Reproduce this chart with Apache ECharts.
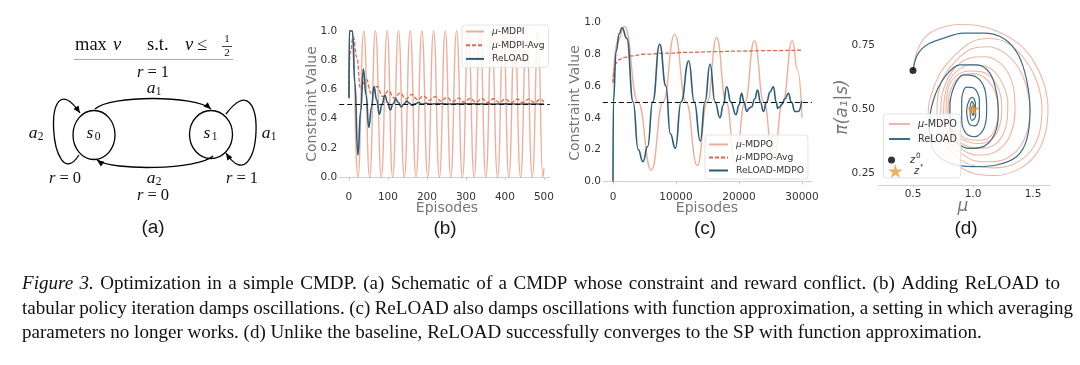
<!DOCTYPE html>
<html><head><meta charset="utf-8">
<script src="https://cdn.jsdelivr.net/npm/echarts@6/dist/echarts.min.js"></script>
<style>html,body{margin:0;padding:0;background:#fff}#c{width:1080px;height:365px}</style>
</head><body><div id="c"></div>
<script>
// ---------- DATA ----------
// (b) tabular policy iteration: [episode, constraint value]
const mdpiB = [[0,0.55],[2,1],[8,1],[23,0],[38,1],[53,0],[68,1],[83,0],[98,1],[112,0],[127,1],[142,0],[157,1],[172,0],[187,1],[202,0],[217,1],[232,0],[247,1],[261,0],[276,1],[291,0],[306,1],[321,0],[336,1],[351,0],[366,1],[381,0],[396,1],[410,0],[425,1],[440,0],[455,1],[470,0],[485,1],[497,0],[500,0.06]];
const avgB = [[0,0.55],[3,0.85],[11,0.96],[20,0.82],[30,0.60],[44,0.67],[58,0.57],[72,0.62],[87,0.55],[101,0.59],[116,0.54],[131,0.575],[146,0.535],[161,0.565],[176,0.53],[191,0.555],[206,0.525],[221,0.55],[236,0.52],[251,0.545],[266,0.515],[281,0.54],[296,0.512],[311,0.538],[326,0.512],[341,0.537],[356,0.51],[371,0.536],[386,0.51],[401,0.535],[416,0.51],[431,0.534],[446,0.51],[461,0.533],[476,0.509],[491,0.532],[500,0.515]];
const reloadB = [[0,0.54],[1,1],[9,1],[15,0.65],[23,0.15],[30,0.45],[37,0.74],[44,0.56],[51,0.34],[58,0.48],[64,0.62],[71,0.53],[78,0.43],[85,0.5],[92,0.56],[99,0.51],[106,0.46],[113,0.5],[120,0.535],[127,0.51],[134,0.48],[141,0.5],[148,0.52],[155,0.505],[162,0.49],[170,0.502],[178,0.51],[188,0.5],[198,0.505],[210,0.5],[230,0.503],[260,0.5],[300,0.502],[350,0.5],[400,0.501],[450,0.5],[500,0.5]];
// (c) function approximation: [episode, constraint value]
const mdpoC = [[0,0.62],[700,0.88],[1850,0.975],[3970,0.5],[6080,0.07],[7950,0.5],[9790,0.925],[11600,0.5],[13380,0.10],[14950,0.5],[16450,0.905],[17950,0.5],[19450,0.12],[20950,0.5],[22430,0.885],[23950,0.5],[25450,0.12],[26950,0.5],[28460,0.885],[29300,0.7],[30000,0.40]];
const avgC = [[0,0.62],[150,0.70],[400,0.74],[900,0.765],[1800,0.78],[3000,0.79],[5000,0.80],[8000,0.806],[12000,0.812],[16000,0.816],[20000,0.82],[25000,0.823],[30000,0.826]];
const reloadC = [[0,0.0],[60,0.5],[500,0.82],[1000,0.93],[1430,0.967],[2200,0.9],[3200,0.5],[4000,0.2],[4760,0.125],[5500,0.22],[6300,0.5],[7410,0.863],[8400,0.6],[9100,0.3],[9900,0.209],[10800,0.5],[12020,0.758],[12900,0.5],[13860,0.255],[14600,0.5],[15400,0.737],[16200,0.5],[16980,0.40],[17500,0.48],[18040,0.596],[18700,0.5],[19520,0.42],[20000,0.48],[20400,0.555],[20800,0.5],[21220,0.44],[21600,0.46],[22000,0.47],[22500,0.52],[22950,0.575],[23400,0.5],[23860,0.44],[24400,0.5],[24900,0.56],[25450,0.596],[25900,0.5],[26140,0.46],[26500,0.47],[26800,0.485],[27300,0.52],[27830,0.555],[28300,0.5],[28890,0.44],[29400,0.44],[29950,0.506]];
// (d) trajectories: [mu, pi(a1|s)]
const mdpoD = [[0.50,0.65],[0.53,0.72],[0.60,0.78],[0.72,0.815],[0.88,0.83],[1.05,0.825],[1.22,0.80],[1.38,0.755],[1.50,0.69],[1.59,0.60],[1.625,0.50],[1.60,0.40],[1.52,0.32],[1.38,0.265],[1.20,0.24],[1.03,0.245],[0.88,0.275],[0.75,0.32],[0.66,0.38],[0.625,0.44],
 [0.63,0.51],[0.67,0.58],[0.74,0.65],[0.85,0.71],[0.98,0.76],[1.12,0.775],[1.28,0.76],[1.42,0.70],[1.53,0.61],[1.575,0.50],[1.55,0.40],[1.47,0.33],[1.34,0.285],[1.18,0.27],[1.03,0.275],[0.90,0.30],[0.79,0.35],[0.72,0.41],
 [0.70,0.48],[0.71,0.56],[0.76,0.63],[0.86,0.69],[0.99,0.735],[1.12,0.743],[1.26,0.72],[1.38,0.66],[1.45,0.58],[1.475,0.50],[1.45,0.41],[1.38,0.345],[1.27,0.305],[1.13,0.294],[1.00,0.30],[0.89,0.33],[0.80,0.37],[0.74,0.43],
 [0.73,0.49],[0.745,0.56],[0.79,0.62],[0.87,0.67],[0.98,0.70],[1.10,0.704],[1.21,0.685],[1.30,0.635],[1.345,0.56],[1.35,0.49],[1.32,0.41],[1.25,0.355],[1.15,0.325],[1.04,0.32],[0.93,0.335],[0.84,0.37],[0.78,0.42],
 [0.755,0.48],[0.765,0.55],[0.80,0.61],[0.87,0.65],[0.97,0.672],[1.08,0.67],[1.18,0.645],[1.25,0.595],[1.29,0.53],[1.285,0.46],[1.25,0.40],[1.18,0.36],[1.08,0.347],[0.98,0.35],[0.89,0.37],[0.82,0.41],
 [0.775,0.47],[0.78,0.54],[0.81,0.60],[0.88,0.635],[0.97,0.648],[1.07,0.645],[1.16,0.62],[1.22,0.57],[1.24,0.51],[1.23,0.45],[1.19,0.40],[1.12,0.37],[1.03,0.365],[0.94,0.375],[0.86,0.40],[0.80,0.44],
 [0.79,0.49],[0.80,0.55],[0.84,0.60],[0.91,0.63],[1.00,0.638],[1.09,0.625],[1.16,0.59],[1.20,0.54],[1.21,0.48],[1.19,0.43],[1.14,0.39],[1.06,0.378],[0.97,0.38],[0.89,0.40],[0.83,0.44],[0.80,0.49],[0.805,0.54]];
const reloadD = [[0.50,0.65],[0.536,0.711],[0.614,0.75],[0.753,0.776],[0.92,0.796],[1.086,0.796],[1.253,0.776],[1.378,0.711],[1.447,0.613],[1.475,0.496],[1.447,0.379],[1.364,0.314],[1.197,0.281],[1.003,0.275],[0.808,0.288],[0.67,0.34],[0.636,0.431],[0.67,0.535],[0.767,0.626],[0.892,0.672],[1.03,0.672],[1.142,0.639],[1.197,0.561],[1.211,0.483],[1.183,0.405],[1.086,0.353],[0.961,0.346],[0.864,0.372],[0.808,0.431],[0.808,0.509],[0.842,0.587],[0.92,0.633],[1.03,0.624],[1.1,0.574],[1.114,0.496],[1.092,0.425],[1.017,0.392],[0.942,0.405],[0.906,0.457],[0.906,0.535],[0.947,0.585],[1.008,0.581],[1.053,0.535],[1.053,0.47],[1.017,0.434],[0.969,0.441],[0.947,0.496],[0.969,0.535],[0.995,0.545],[1.02,0.52],[1.02,0.47],[0.99,0.455],[0.975,0.50],[0.99,0.53],[1.01,0.51],[1.0,0.475],[0.985,0.495],[1.0,0.515],[1.0,0.5]];
const z0Point = [[0.5,0.65]];
const zStarPoint = [[1.0,0.5]];
const constraintLimit = 0.5;
// tick values
const epTicksB = [0,100,200,300,400,500];
const epTicksC = [0,10000,20000,30000];
const cvTicks = [0,0.2,0.4,0.6,0.8,1.0];
const muTicks = [0.5,1.0,1.5];
const piTicks = [0.25,0.5,0.75];
// legend labels
const legendLabels = {mdpiB:'{i|μ}-MDPI', avgB:'{i|μ}-MDPI-Avg', reloadB:'ReLOAD', mdpoC:'{i|μ}-MDPO', avgC:'{i|μ}-MDPO-Avg', reloadC:'ReLOAD-MDPO', mdpoD:'{i|μ}-MDPO', reloadD:'ReLOAD', z0:'{i|z}{sup|0}', zstar:'{i|z}{sup|*}'};
const captionLines = [
 'Figure 3. Optimization in a simple CMDP. (a) Schematic of a CMDP whose constraint and reward conflict. (b) Adding ReLOAD to',
 'tabular policy iteration damps oscillations. (c) ReLOAD also damps oscillations with function approximation, a setting in which averaging',
 'parameters no longer works. (d) Unlike the baseline, ReLOAD successfully converges to the SP with function approximation.'
];

// ---------- STYLE ----------
const ORANGE = 'rgba(232,148,120,0.75)';
const ORANGE_D = 'rgba(234,150,124,0.7)';
const RED = '#e2674a';
const BLUE = '#2c5c77';
const BLUE_D = '#3c6c86';
const STAR = 'path://M50,0 L61,35 L98,35 L68,57 L79,91 L50,70 L21,91 L32,57 L2,35 L39,35 Z';
const SANS = 'DejaVu Sans';
const TICK_COLOR = '#333';
const TITLE_COLOR = '#777';
const AXIS_COLOR = '#cfcfcf';

function xAx(gi, min, max, ticks, fmt) {
  return {type:'value', gridIndex:gi, min, max,
    axisLine:{show:true, lineStyle:{color:AXIS_COLOR, width:1}},
    axisTick:{show:true, length:3, customValues:ticks, lineStyle:{color:AXIS_COLOR}},
    axisLabel:{customValues:ticks, formatter:fmt, color:TICK_COLOR, fontSize:10.5, fontFamily:SANS, margin:4},
    splitLine:{show:false}};
}
function yAx(gi, min, max, ticks, fmt, margin) {
  return {type:'value', gridIndex:gi, min, max,
    axisLine:{show:false}, axisTick:{show:false},
    axisLabel:{customValues:ticks, formatter:fmt, color:TICK_COLOR, fontSize:10.5, fontFamily:SANS, margin},
    splitLine:{show:false}};
}
const f1 = v => v.toFixed(1), f2 = v => v.toFixed(2), f0 = v => String(Math.round(v));
const dashLine = {silent:true, symbol:['none','none'], label:{show:false},
  lineStyle:{color:'#111', type:[5,3], width:1.2}, data:[{yAxis:constraintLimit}]};

function lineS(name, xi, data, color, width, type, extra) {
  return Object.assign({type:'line', name, xAxisIndex:xi, yAxisIndex:xi, data, showSymbol:false, symbol:'none',
    smooth:0.5, smoothMonotone:'x', color, lineStyle:{color, width, type:type||'solid'}, animation:false}, extra||{});
}

function legendText(size) {
  return {color:'#333', fontSize:size, fontFamily:SANS, padding:[0,0,0,3],
    rich:{i:{fontStyle:'italic', fontSize:size, fontFamily:SANS, color:'#333'},
          sup:{fontSize:size*0.75, fontFamily:SANS, color:'#333', padding:[0,0,7,1]}}};
}
const legendFmt = n => legendLabels[n];
const noSymbol = {opacity:0, color:'rgba(0,0,0,0)', borderWidth:0};
function boxLegend(left, top, names, itemWidth, gap, padding) {
  return {show:true, orient:'vertical', left, top, itemWidth, itemHeight:10, itemGap:gap, padding,
    backgroundColor:'rgba(255,255,255,0.82)', borderColor:'#e4e4e4', borderWidth:1, borderRadius:3,
    itemStyle:noSymbol, data:names, formatter:legendFmt, textStyle:legendText(9.2), selectedMode:false};
}
function soloLegend(left, top, name, h, isLine) {
  const l = {show:true, left, top, itemWidth:21, itemHeight:h, padding:0, data:[name], formatter:legendFmt,
    textStyle:legendText(9.7), selectedMode:false, z:6};
  if (isLine) l.itemStyle = noSymbol;
  return l;
}

// ---------- CAPTION LAYOUT ----------
const mctx = document.createElement('canvas').getContext('2d');
function mw(t, size, it) { mctx.font = (it?'italic ':'') + size + 'px "Liberation Serif"'; return mctx.measureText(t).width; }
const capLeft = 22, capEnds = [1060, 1073, 982], capY = [284, 308.5, 333];
const capSize = 100 * (capEnds[2] - capLeft) / mw(captionLines[2], 100, false);
const captionEls = [];
captionLines.forEach((line, li) => {
  const words = line.split(' ').map((w, wi) => ({t:w, it: li===0 && wi<2}));
  const widths = words.map(w => mw(w.t, capSize, w.it));
  const tot = widths.reduce((a,b)=>a+b,0);
  const gap = li < 2 ? (capEnds[li] - capLeft - tot) / (words.length - 1) : mw(' ', capSize, false);
  let x = capLeft;
  words.forEach((w, i) => {
    captionEls.push({type:'text', x, y:capY[li], style:{text:w.t, fontSize:capSize, fontFamily:'Liberation Serif',
      fontStyle:w.it?'italic':'normal', fill:'#111', align:'left', verticalAlign:'middle'}});
    x += widths[i] + gap;
  });
});

// ---------- PANEL (a) DIAGRAM ----------
const SERIF = 'Liberation Serif';
function tx(x, y, text, size, italic, align) {
  return {type:'text', x, y, style:{text, fontSize:size, fontFamily:SERIF, fontStyle:italic?'italic':'normal',
    fill:'#111', align:align||'center', verticalAlign:'middle'}};
}
function sym(x, y, letter, sub) {
  return [tx(x, y, letter, 17.5, true), tx(x + 7.5, y + 4, sub, 11.5, false)];
}
function rEq(x, y, val) {
  return {type:'text', x, y, style:{text:'{i|r} = ' + val, fontSize:16.5, fontFamily:SERIF, fill:'#111',
    align:'center', verticalAlign:'middle', rich:{i:{fontStyle:'italic', fontSize:16.5, fontFamily:SERIF, fill:'#111'}}}};
}
function arrowHead(tx_, ty_, fx, fy) {
  const dx = tx_ - fx, dy = ty_ - fy, L = Math.hypot(dx, dy), ux = dx / L, uy = dy / L, len = 7, hw = 3;
  const bx = tx_ - ux * len, by = ty_ - uy * len;
  return {type:'polygon', shape:{points:[[tx_,ty_],[bx - uy*hw, by + ux*hw],[bx + uy*hw, by - ux*hw]]}, style:{fill:'#000'}};
}
function curve(p0, p1, p2, p3) {
  return [{type:'bezierCurve', shape:{x1:p0[0], y1:p0[1], cpx1:p1[0], cpy1:p1[1], cpx2:p2[0], cpy2:p2[1], x2:p3[0], y2:p3[1]},
    style:{stroke:'#000', lineWidth:1.3, fill:null}}, arrowHead(p3[0], p3[1], p2[0], p2[1])];
}
const diagram = [].concat(
  [tx(75, 45, 'max', 18.5, false, 'left'), tx(113, 45, 'v', 18.5, true, 'left'),
   tx(147, 45, 's.t.', 18.5, false, 'left'), tx(185, 45, 'v', 18.5, true, 'left'),
   tx(197, 45, '≤', 18.5, false, 'left'),
   tx(227, 39.5, '1', 11, false), tx(227, 53.5, '2', 11, false),
   {type:'line', shape:{x1:222, y1:46.5, x2:232, y2:46.5}, style:{stroke:'#111', lineWidth:0.8}},
   {type:'line', shape:{x1:74, y1:59.5, x2:233, y2:59.5}, style:{stroke:'#aaa', lineWidth:1}},
   rEq(153, 73, '1'),
   {type:'ellipse', shape:{cx:94, cy:135, rx:21, ry:24.5}, style:{stroke:'#000', lineWidth:1.3, fill:'#fff'}},
   {type:'ellipse', shape:{cx:211, cy:134.5, rx:21.5, ry:24}, style:{stroke:'#000', lineWidth:1.3, fill:'#fff'}},
   rEq(65, 179, '0'), rEq(242, 179, '1'), rEq(153, 195.5, '0'),
   {type:'text', x:153, y:228, style:{text:'(a)', fontSize:19, fontFamily:'Liberation Sans', fill:'#1a1a1a', align:'center', verticalAlign:'middle'}}
  ],
  sym(151, 88, 'a', '1'), sym(90, 133, 's', '0'), sym(207, 133, 's', '1'),
  sym(33, 133, 'a', '2'), sym(266, 133, 'a', '1'), sym(151, 178, 'a', '2'),
  curve([95,109],[110,95],[195,95],[211,109]),
  curve([213,156],[198,170],[112,171],[97,160]),
  curve([79,155],[50,200],[40,55],[80,113]),
  curve([226,114],[270,55],[262,208],[226,153])
);

// ---------- AXIS TITLES / PANEL LABELS ----------
function title(x, y, text, rot, size) {
  return {type:'text', x, y, rotation:rot?Math.PI/2:0, style:{text, fontSize:size||14, fontFamily:SANS, fill:TITLE_COLOR,
    align:'center', verticalAlign:'middle'}};
}
function panel(x, text) {
  return {type:'text', x, y:229, style:{text, fontSize:19, fontFamily:'Liberation Sans', fill:'#1a1a1a', align:'center', verticalAlign:'middle'}};
}
const titles = [
  title(312, 104, 'Constraint Value', true), title(447, 208, 'Episodes'),
  title(575, 103, 'Constraint Value', true), title(707, 208, 'Episodes'),
  {type:'text', x:843, y:107, rotation:Math.PI/2, style:{text:'π(a₁|s)', fontSize:17, fontFamily:SANS, fontStyle:'italic', fill:TITLE_COLOR, align:'center', verticalAlign:'middle'}},
  {type:'text', x:963, y:207, style:{text:'μ', fontSize:17, fontFamily:SANS, fontStyle:'italic', fill:TITLE_COLOR, align:'center', verticalAlign:'middle'}},
  panel(445, '(b)'), panel(705, '(c)'), panel(966, '(d)'),
  {type:'rect', z:5, shape:{x:883.5, y:114, width:77, height:64, r:3}, style:{fill:'rgba(255,255,255,0.82)', stroke:'#e4e4e4', lineWidth:1}}
];

// ---------- CHART ----------
const chart = echarts.init(document.getElementById('c'), null, {renderer:'canvas'});
chart.setOption({
  animation:false,
  backgroundColor:'#fff',
  grid:[
    {left:339.2, width:210.6, top:23.7, height:164.3},
    {left:602.9, width:209.2, top:14.5, height:173.5},
    {left:879, width:171, top:16.8, height:168.2}
  ],
  xAxis:[xAx(0,-25,515,epTicksB,f0), xAx(1,-1600,31600,epTicksC,f0), xAx(2,0.2167,1.6417,muTicks,f1)],
  yAxis:[yAx(0,-0.075,1.05,cvTicks,f1,2), yAx(1,-0.041,1.05,cvTicks,f1,2), yAx(2,0.203,0.86,piTicks,f2,4)],
  legend:[
    boxLegend(462, 25, ['mdpiB','avgB','reloadB'], 18, 4.7, [2,4,4,3]),
    boxLegend(705, 135, ['mdpoC','avgC','reloadC'], 19, 4, [5,4,4,3]),
    soloLegend(888, 119, 'mdpoD', 10, true), soloLegend(888, 134, 'reloadD', 10, true),
    soloLegend(888, 153, 'z0', 7), soloLegend(888, 164, 'zstar', 14)
  ],
  graphic:{elements: diagram.concat(titles, captionEls)},
  series:[
    lineS('mdpiB', 0, mdpiB, ORANGE, 1.4),
    lineS('avgB', 0, avgB, RED, 1.3, [4,2]),
    lineS('reloadB', 0, reloadB, BLUE, 1.6, 'solid', {markLine:dashLine}),
    lineS('mdpoC', 1, mdpoC, ORANGE, 1.4),
    lineS('avgC', 1, avgC, RED, 1.3, [4,2]),
    lineS('reloadC', 1, reloadC, BLUE, 1.6, 'solid', {markLine:dashLine}),
    lineS('mdpoD', 2, mdpoD, ORANGE_D, 1.1, 'solid', {smooth:0.35, smoothMonotone:null}),
    lineS('reloadD', 2, reloadD, BLUE_D, 1.2, 'solid', {smooth:0.35, smoothMonotone:null}),
    {type:'scatter', name:'z0', xAxisIndex:2, yAxisIndex:2, data:z0Point, symbol:'circle', symbolSize:7, color:'#000', z:4, animation:false},
    {type:'scatter', name:'zstar', xAxisIndex:2, yAxisIndex:2, data:zStarPoint, symbol:STAR, symbolSize:14, symbolKeepAspect:true, color:'#ee9b3a', z:5, animation:false}
  ]
});
</script></body></html>
